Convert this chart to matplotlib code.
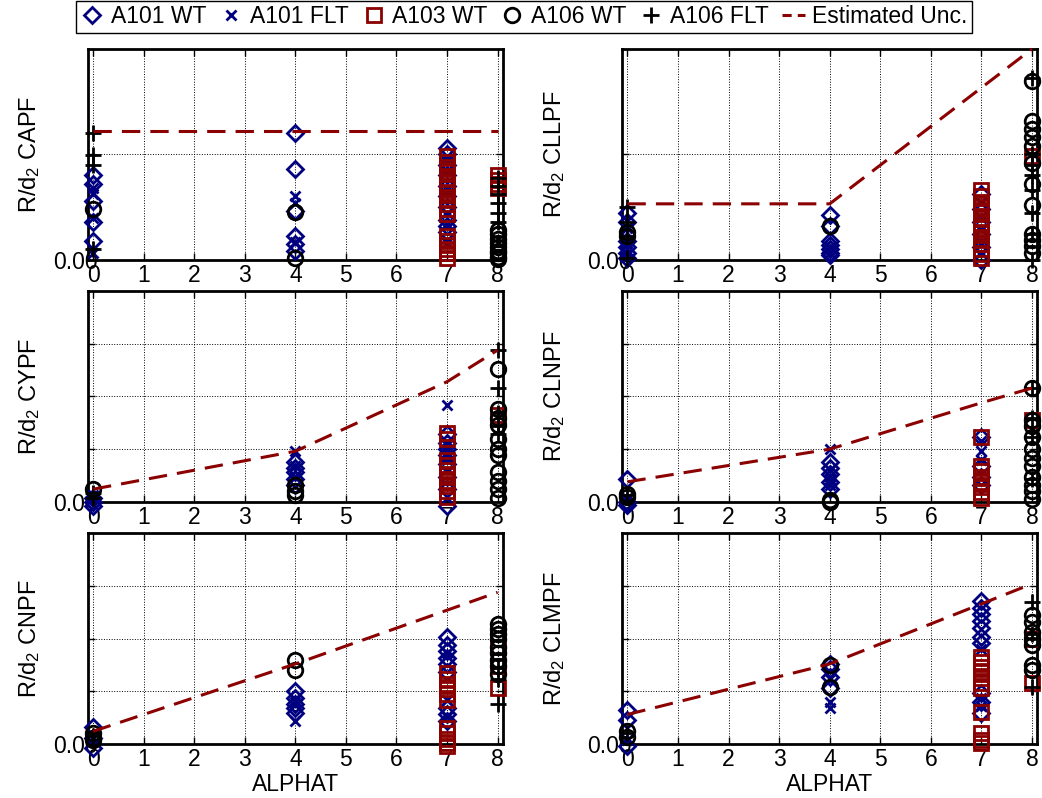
import matplotlib
matplotlib.use('Agg')
import matplotlib.pyplot as plt
from matplotlib.lines import Line2D

plt.rcParams['font.family'] = ['Liberation Sans', 'DejaVu Sans']
plt.rcParams['mathtext.fontset'] = 'custom'
plt.rcParams['mathtext.rm'] = 'Liberation Sans'
plt.rcParams['mathtext.default'] = 'regular'

# angle of attack stations
alpha = [0, 4, 7, 8]

# R/d2 values, scaled to each panel's plotting range
CAPF_A101_WT = {0: [0.40, 0.36, 0.28, 0.18, 0.09], 4: [0.60, 0.43, 0.23, 0.11, 0.075, 0.04],
                7: [0.53, 0.50, 0.45, 0.40, 0.35, 0.30, 0.25, 0.19, 0.16, 0.13]}
CAPF_A101_FLT = {0: [0.34, 0.31, 0.20, 0.03], 4: [0.30, 0.27, 0.086], 7: [0.48, 0.42, 0.33, 0.22, 0.17, 0.08]}
CAPF_A103_WT = {7: [0.49, 0.465, 0.44, 0.415, 0.39, 0.365, 0.34, 0.315, 0.29, 0.265, 0.24, 0.215,
                    0.11, 0.09, 0.07, 0.05, 0.03, 0.01],
                8: [0.40, 0.38, 0.36, 0.34]}
CAPF_A106_WT = {0: [0.24], 4: [0.226, 0.01], 8: [0.14, 0.12, 0.10, 0.08, 0.06, 0.04, 0.03, 0.015, 0.005]}
CAPF_A106_FLT = {0: [0.60, 0.495, 0.45, 0.05], 8: [0.39, 0.35, 0.31, 0.27, 0.22, 0.18]}
UNC_CAPF = [0.61, 0.61, 0.61, 0.61]

CLLPF_A101_WT = {0: [0.22, 0.18, 0.09, 0.06, 0.03, 0.01], 4: [0.21, 0.16, 0.09, 0.07, 0.05, 0.03, 0.02],
                 7: [0.31, 0.24, 0.18, 0.12, 0.06, 0.0]}
CLLPF_A101_FLT = {0: [0.15, 0.08, 0.03], 4: [0.06, 0.03], 7: [0.27, 0.20, 0.14, 0.08, 0.03]}
CLLPF_A103_WT = {7: [0.33, 0.30, 0.275, 0.25, 0.225, 0.20, 0.175, 0.15, 0.125, 0.10, 0.075, 0.05, 0.025, 0.01],
                 8: [0.49]}
CLLPF_A106_WT = {0: [0.13, 0.11], 4: [0.16],
                 8: [0.85, 0.66, 0.62, 0.58, 0.54, 0.46, 0.36, 0.26, 0.12, 0.095, 0.063, 0.03]}
CLLPF_A106_FLT = {0: [0.25, 0.18, 0.11, 0.01], 8: [0.86, 0.50, 0.45, 0.40, 0.33, 0.22, 0.12, 0.0]}
UNC_CLLPF = [0.265, 0.265, 0.816, 1.0]

CYPF_A101_WT = {0: [0.02, 0.0, -0.02], 4: [0.19, 0.16, 0.14, 0.11, 0.08],
                7: [0.32, 0.28, 0.25, 0.22, 0.18, 0.12, 0.06, -0.02]}
CYPF_A101_FLT = {0: [0.03], 4: [0.24, 0.17, 0.12], 7: [0.46, 0.27, 0.23, 0.20]}
CYPF_A103_WT = {7: [0.325, 0.30, 0.20, 0.175, 0.15, 0.125, 0.10, 0.075, 0.05, 0.025], 8: [0.41]}
CYPF_A106_WT = {0: [0.06], 4: [0.08, 0.05, 0.03],
                8: [0.63, 0.44, 0.40, 0.365, 0.30, 0.25, 0.22, 0.14, 0.10, 0.06, 0.02]}
CYPF_A106_FLT = {0: [0.04, 0.02], 8: [0.72, 0.54, 0.42, 0.36, 0.32]}
UNC_CYPF = [0.06, 0.24, 0.57, 0.72]

CLNPF_A101_WT = {0: [0.11, 0.0, -0.015], 4: [0.19, 0.16, 0.13, 0.095, 0.06], 7: [0.31, 0.17, 0.12, 0.08]}
CLNPF_A101_FLT = {0: [0.02], 4: [0.25, 0.15, 0.11, 0.08], 7: [0.29, 0.24, 0.20]}
CLNPF_A103_WT = {7: [0.31, 0.17, 0.145, 0.12, 0.095, 0.07, 0.045, 0.02], 8: [0.39]}
CLNPF_A106_WT = {0: [0.035, 0.025], 4: [0.01, 0.0],
                 8: [0.54, 0.39, 0.36, 0.31, 0.25, 0.21, 0.17, 0.12, 0.08, 0.05, 0.015]}
CLNPF_A106_FLT = {0: [0.03], 8: [0.54, 0.40, 0.31, 0.11]}
UNC_CLNPF = [0.095, 0.25, 0.47, 0.54]

CNPF_A101_WT = {0: [0.08, 0.03, -0.02], 4: [0.25, 0.22, 0.19, 0.17, 0.145],
                7: [0.51, 0.47, 0.44, 0.41, 0.38, 0.34, 0.17, 0.14, 0.11]}
CNPF_A101_FLT = {0: [0.035], 4: [0.20, 0.11], 7: [0.43, 0.21, 0.13]}
CNPF_A103_WT = {7: [0.335, 0.31, 0.285, 0.26, 0.235, 0.21, 0.075, 0.05, 0.025, 0.005, -0.01],
                8: [0.46, 0.37, 0.265]}
CNPF_A106_WT = {0: [0.05, 0.03, 0.02], 4: [0.40, 0.35], 8: [0.57, 0.545, 0.52, 0.50, 0.46, 0.43, 0.40, 0.37, 0.33]}
CNPF_A106_FLT = {0: [0.04], 8: [0.36, 0.31, 0.19]}
UNC_CNPF = [0.06, 0.38, 0.635, 0.72]

CLMPF_A101_WT = {0: [0.16, 0.115, -0.01], 4: [0.38, 0.355, 0.32, 0.265],
                 7: [0.68, 0.645, 0.615, 0.585, 0.55, 0.51, 0.48, 0.24, 0.20, 0.145]}
CLMPF_A101_FLT = {0: [0.02], 4: [0.31, 0.20, 0.17], 7: [0.45, 0.22, 0.18]}
CLMPF_A103_WT = {7: [0.415, 0.39, 0.365, 0.34, 0.315, 0.29, 0.265, 0.15, 0.05, 0.02, 0.003], 8: [0.50, 0.29]}
CLMPF_A106_WT = {0: [0.06, 0.035], 4: [0.375, 0.27], 8: [0.61, 0.58, 0.53, 0.50, 0.47, 0.375, 0.35]}
CLMPF_A106_FLT = {0: [0.05], 8: [0.675, 0.52, 0.27]}
UNC_CLMPF = [0.14, 0.38, 0.665, 0.76]

series_names = ['A101 WT', 'A101 FLT', 'A103 WT', 'A106 WT', 'A106 FLT']
coef_names = ['CAPF', 'CLLPF', 'CYPF', 'CLNPF', 'CNPF', 'CLMPF']

navy = '#000080'
dred = '#8B0000'
styles = [
    dict(marker='D', ms=8.3, mec=navy),
    dict(marker='x', ms=7.5, mec=navy),
    dict(marker='s', ms=9.5, mec=dred),
    dict(marker='o', ms=10.5, mec='k'),
    dict(marker='+', ms=11, mec='k'),
]

panels = [
    ([CAPF_A101_WT, CAPF_A101_FLT, CAPF_A103_WT, CAPF_A106_WT, CAPF_A106_FLT], UNC_CAPF),
    ([CLLPF_A101_WT, CLLPF_A101_FLT, CLLPF_A103_WT, CLLPF_A106_WT, CLLPF_A106_FLT], UNC_CLLPF),
    ([CYPF_A101_WT, CYPF_A101_FLT, CYPF_A103_WT, CYPF_A106_WT, CYPF_A106_FLT], UNC_CYPF),
    ([CLNPF_A101_WT, CLNPF_A101_FLT, CLNPF_A103_WT, CLNPF_A106_WT, CLNPF_A106_FLT], UNC_CLNPF),
    ([CNPF_A101_WT, CNPF_A101_FLT, CNPF_A103_WT, CNPF_A106_WT, CNPF_A106_FLT], UNC_CNPF),
    ([CLMPF_A101_WT, CLMPF_A101_FLT, CLMPF_A103_WT, CLMPF_A106_WT, CLMPF_A106_FLT], UNC_CLMPF),
]

fs = 16.5
mw = 2.0
fig, axes = plt.subplots(3, 2, figsize=(10.42, 7.98), dpi=100)
plt.subplots_adjust(left=0.0845, right=0.9952, top=0.9386, bottom=0.0677,
                    wspace=0.289, hspace=0.1495)

for k, (ax, (data, unc)) in enumerate(zip(axes.flat, panels)):
    for d, st in zip(data, styles):
        xs = [a for a in d for _ in d[a]]
        ys = [v for a in d for v in d[a]]
        ax.plot(xs, ys, linestyle='none', marker=st['marker'], ms=st['ms'],
                mfc='none', mec=st['mec'], mew=mw, clip_on=False, zorder=3)
    ax.plot(alpha, unc, color=dred, lw=2.2, dashes=(6, 3.3), clip_on=False, zorder=4)

    ax.set_xlim(-0.1, 8.1)
    ax.set_ylim(0, 1)
    ax.set_xticks(range(9))
    ax.set_xticklabels([str(i) for i in range(9)], fontsize=fs)
    yt = [0, 0.5, 1] if k < 2 else [0, 0.25, 0.5, 0.75, 1]
    ax.set_yticks(yt)
    ax.set_yticklabels(['0.00'] + [''] * (len(yt) - 1), fontsize=fs)
    ax.tick_params(direction='in', top=True, right=True, length=5, width=1)
    ax.tick_params(axis='y', pad=-7)
    ax.tick_params(axis='x', pad=3)
    ax.grid(True, linestyle=':', color='k', linewidth=0.7)
    ax.set_axisbelow(True)
    for sp in ax.spines.values():
        sp.set_linewidth(2)

    ax.set_ylabel('R/d$_2$ ' + coef_names[k], fontsize=17)
    if k % 2 == 0:
        ax.yaxis.set_label_coords(-0.111, 0.5)
    else:
        ax.yaxis.set_label_coords(-0.133, 0.5)
    if k >= 4:
        ax.set_xlabel('ALPHAT', fontsize=fs)
        ax.xaxis.set_label_coords(0.5, -0.137)

handles = [Line2D([], [], linestyle='none', marker=st['marker'], ms=st['ms'],
                  mfc='none', mec=st['mec'], mew=mw) for st in styles]
handles.append(Line2D([], [], color=dred, lw=2.2, dashes=(3, 2)))
leg = fig.legend(handles, series_names + ['Estimated Unc.'], loc='upper center',
                 bbox_to_anchor=(0.503, 0.999), ncol=6, fontsize=fs, frameon=True,
                 fancybox=False, edgecolor='k', framealpha=1, handlelength=1.0,
                 handletextpad=0.3, columnspacing=0.6, borderpad=0.2, borderaxespad=0)
leg.get_frame().set_linewidth(1)

plt.savefig('out.png', dpi=100)
